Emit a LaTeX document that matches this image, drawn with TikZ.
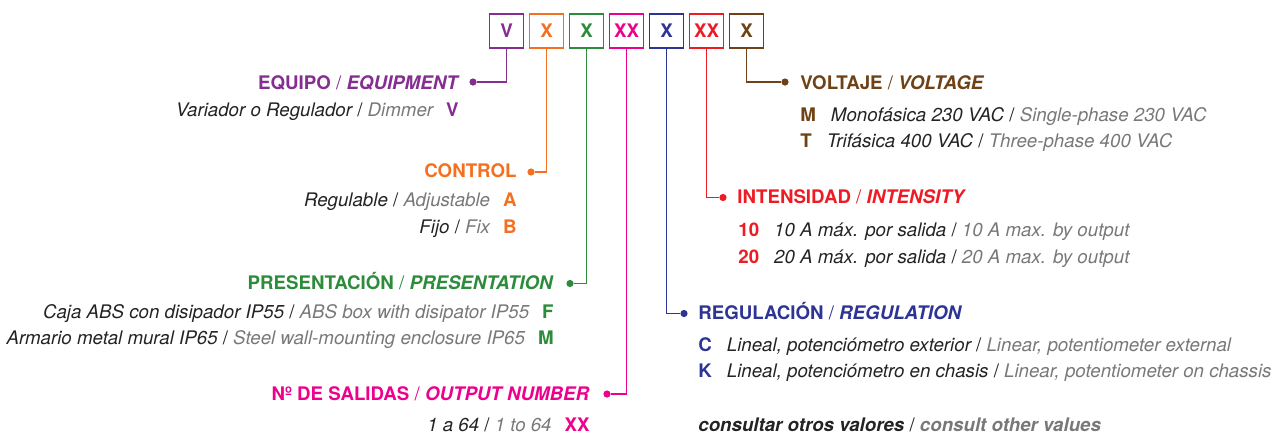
\documentclass[tikz,border=0pt]{standalone}
\usepackage{fontspec}
\setmainfont{TeX Gyre Heros}
\usetikzlibrary{positioning}
\definecolor{equipo}{RGB}{133,45,145}
\definecolor{control}{RGB}{243,112,33}
\definecolor{presenta}{RGB}{45,140,60}
\definecolor{salidas}{RGB}{236,0,140}
\definecolor{regula}{RGB}{46,52,148}
\definecolor{intensi}{RGB}{237,28,36}
\definecolor{voltaje}{RGB}{110,66,22}
\definecolor{texto}{RGB}{35,35,35}
\definecolor{gris}{RGB}{120,120,120}
\newcommand{\letra}{\fontsize{9.35}{11}\selectfont}
\newcommand{\en}[1]{{\color{gris}#1}}
\newcommand{\cod}[2]{{\color{#1}\upshape\bfseries #2}}
\tikzset{
  codigo/.style = {draw=#1, text=#1, line width=0.8pt, minimum size=17pt,
                   inner sep=0pt, font=\letra\bfseries},
  rama/.style   = {draw=#1, line width=0.75pt},
  punto/.style  = {circle, fill=#1, inner sep=0pt, minimum size=3.6pt},
  titulo/.style = {text=#1, inner sep=0pt, font=\letra\bfseries},
  opcion/.style = {text=texto, inner sep=0pt, font=\letra\itshape}
}

\begin{document}
\begin{tikzpicture}[x=0.5pt, y=-0.5pt]
  \useasboundingbox (0,0) rectangle (1287,435);

  % casillas del codigo
  \foreach \n/\t/\c [count=\i from 0] in {bV/V/equipo, bA/X/control, bF/X/presenta,
      bN/XX/salidas, bR/X/regula, bI/XX/intensi, bT/X/voltaje}{
    \node[codigo=\c] (\n) at ({506.5+40*\i},31) {\t};
  }

  % equipo
  \node[punto=equipo] (pV) at (473,82) {};
  \draw[rama=equipo] (bV.south) |- (pV);
  \node[titulo=equipo, anchor=base east] (tV) at (460,89) {EQUIPO {\mdseries/} \textit{EQUIPMENT}};
  \node[opcion, anchor=base east] (oV) at (459,116.5)
    {Variador o Regulador {\upshape/} \en{Dimmer}\hspace{6.5pt}\cod{equipo}{V}};

  % control
  \node[punto=control] (pA) at (531,172) {};
  \draw[rama=control] (bA.south) |- (pA);
  \node[titulo=control, anchor=base east] (tA) at (517,177.5) {CONTROL};
  \node[opcion, anchor=base east] (oA) at (517,206.5)
    {Regulable {\upshape/} \en{Adjustable}\hspace{6.5pt}\cod{control}{A}};
  \node[opcion, anchor=base east] (oB) at (517,233)
    {Fijo {\upshape/} \en{Fix}\hspace{6.5pt}\cod{control}{B}};

  % presentacion
  \node[punto=presenta] (pF) at (570,283.5) {};
  \draw[rama=presenta] (bF.south) |- (pF);
  \node[titulo=presenta, anchor=base east] (tF) at (554,289) {PRESENTACIÓN {\mdseries/} \textit{PRESENTATION}};
  \node[opcion, anchor=base east] (oF) at (554,318)
    {Caja ABS con disipador IP55 {\upshape/} \en{ABS box with disipator IP55}\hspace{6.5pt}\cod{presenta}{F}};
  \node[opcion, anchor=base east] (oM) at (554,344)
    {Armario metal mural IP65 {\upshape/} \en{Steel wall-mounting enclosure IP65}\hspace{6.5pt}\cod{presenta}{M}};

  % numero de salidas
  \node[punto=salidas] (pN) at (607,394) {};
  \draw[rama=salidas] (bN.south) |- (pN);
  \node[titulo=salidas, anchor=base east] (tN) at (590,400) {Nº DE SALIDAS {\mdseries/} \textit{OUTPUT NUMBER}};
  \node[opcion, anchor=base east] (oN) at (590,431)
    {1 a 64 {\upshape/} \en{1 to 64}\hspace{6.5pt}\cod{salidas}{XX}};

  % voltaje
  \node[punto=voltaje] (pT) at (785,82) {};
  \draw[rama=voltaje] (bT.south) |- (pT);
  \node[titulo=voltaje, anchor=base west] (tT) at (800,89) {VOLTAJE {\mdseries/} \textit{VOLTAGE}};
  \node[opcion, anchor=base west] (oM1) at (800,121)
    {\cod{voltaje}{M}\hspace{7.5pt}Monofásica 230 VAC {\upshape/} \en{Single-phase 230 VAC}};
  \node[opcion, anchor=base west] (oT3) at (800,147.5)
    {\cod{voltaje}{T}\hspace{7.5pt}Trifásica 400 VAC {\upshape/} \en{Three-phase 400 VAC}};

  % intensidad
  \node[punto=intensi] (pI) at (723,197.5) {};
  \draw[rama=intensi] (bI.south) |- (pI);
  \node[titulo=intensi, anchor=base west] (tI) at (737,203.5) {INTENSIDAD {\mdseries/} \textit{INTENSITY}};
  \node[opcion, anchor=base west] (o10) at (738,236.5)
    {\cod{intensi}{10}\hspace{7.5pt}10 A máx. por salida {\upshape/} \en{10 A max. by output}};
  \node[opcion, anchor=base west] (o20) at (738,263.5)
    {\cod{intensi}{20}\hspace{7.5pt}20 A máx. por salida {\upshape/} \en{20 A max. by output}};

  % regulacion
  \node[punto=regula] (pR) at (684,313.5) {};
  \draw[rama=regula] (bR.south) |- (pR);
  \node[titulo=regula, anchor=base west] (tR) at (698,319) {REGULACIÓN {\mdseries/} \textit{REGULATION}};
  \node[opcion, anchor=base west] (oC) at (698,351.5)
    {\cod{regula}{C}\hspace{7.5pt}Lineal, potenciómetro exterior {\upshape/} \en{Linear, potentiometer external}};
  \node[opcion, anchor=base west] (oK) at (698,377.5)
    {\cod{regula}{K}\hspace{7.5pt}Lineal, potenciómetro en chasis {\upshape/} \en{Linear, potentiometer on chassis}};

  % otros valores
  \node[opcion, font=\letra\bfseries\itshape, anchor=base west] (oO) at (698,431)
    {consultar otros valores {\mdseries\upshape/} \en{consult other values}};
\end{tikzpicture}
\end{document}
